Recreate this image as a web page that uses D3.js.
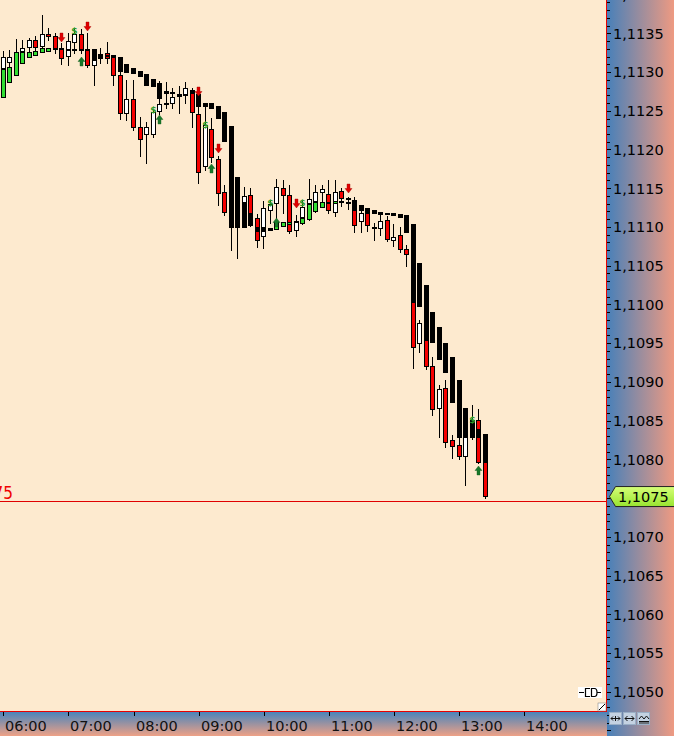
<!DOCTYPE html>
<html><head><meta charset="utf-8">
<script src="https://cdn.jsdelivr.net/npm/d3@7"></script>
<style>html,body{margin:0;padding:0;background:#FDEACF;overflow:hidden}</style>
</head><body><svg id="c" width="674" height="736"></svg>
<script>
// ---------- DATA ----------
const barOpen = [1.11304,1.11312,1.11316,1.11326,1.11331,1.11341,1.11332,1.11349,1.11347,1.11331,
1.11319,1.11337,1.11349,1.11328,1.11308,1.11322,1.11325,1.11319,1.11296,1.11246,
1.11265,1.11229,1.11219,1.11219,1.11248,1.11260,1.11259,1.11270,1.11270,1.11277,
1.11246,1.11177,1.11226,1.11188,1.11145,1.11128,1.11115,1.11122,1.11141,1.11112,
1.11087,1.11121,1.11130,1.11150,1.11141,1.11095,1.11112,1.11130,1.11132,1.11144,
1.11143,1.11118,1.11146,1.11132,1.11122,1.11106,1.11118,1.11100,1.11097,1.11109,
1.11082,1.11090,1.11071,1.11062,1.10949,1.10973,1.10921,1.10865,1.10892,1.10825,
1.10818,1.10803,1.10830,1.10851,1.10825];
const barHigh = [1.11327,1.11328,1.11343,1.11341,1.11344,1.11347,1.11374,1.11357,1.11350,1.11337,
1.11350,1.11356,1.11356,1.11350,1.11322,1.11331,1.11339,1.11322,1.11319,1.11290,
1.11290,1.11242,1.11235,1.11251,1.11288,1.11287,1.11279,1.11282,1.11287,1.11279,
1.11255,1.11255,1.11241,1.11192,1.11154,1.11174,1.11154,1.11152,1.11150,1.11117,
1.11133,1.11135,1.11162,1.11161,1.11154,1.11115,1.11135,1.11162,1.11154,1.11154,
1.11161,1.11161,1.11150,1.11139,1.11139,1.11121,1.11122,1.11105,1.11115,1.11114,
1.11104,1.11100,1.11077,1.11070,1.10980,1.10977,1.10932,1.10896,1.10902,1.10831,
1.10827,1.10851,1.10870,1.10865,1.10833];
const barLow = [1.11296,1.11307,1.11308,1.11322,1.11326,1.11328,1.11326,1.11341,1.11325,1.11310,
1.11309,1.11325,1.11325,1.11307,1.11283,1.11312,1.11312,1.11283,1.11239,1.11238,
1.11225,1.11192,1.11183,1.11216,1.11246,1.11254,1.11254,1.11247,1.11260,1.11229,
1.11157,1.11174,1.11184,1.11128,1.11115,1.11070,1.11060,1.11115,1.11101,1.11074,
1.11073,1.11105,1.11105,1.11118,1.11092,1.11088,1.11104,1.11109,1.11119,1.11128,
1.11118,1.11114,1.11127,1.11123,1.11094,1.11094,1.11095,1.11083,1.11090,1.11082,
1.11075,1.11068,1.11050,1.10918,1.10939,1.10917,1.10857,1.10829,1.10816,1.10802,
1.10800,1.10767,1.10826,1.10795,1.10750];
const barClose = [1.11319,1.11319,1.11326,1.11331,1.11341,1.11331,1.11349,1.11345,1.11328,1.11317,
1.11340,1.11349,1.11328,1.11308,1.11316,1.11318,1.11317,1.11295,1.11246,1.11265,
1.11228,1.11212,1.11229,1.11248,1.11259,1.11260,1.11268,1.11269,1.11279,1.11247,
1.11170,1.11232,1.11189,1.11143,1.11118,1.11103,1.11101,1.11140,1.11117,1.11082,
1.11124,1.11130,1.11152,1.11140,1.11094,1.11106,1.11126,1.11136,1.11145,1.11149,
1.11121,1.11145,1.11136,1.11132,1.11101,1.11118,1.11101,1.11100,1.11108,1.11083,
1.11087,1.11070,1.11064,1.10944,1.10976,1.10919,1.10864,1.10891,1.10821,1.10816,
1.10803,1.10835,1.10840,1.10795,1.10751];
const haOpen = [1.11266,1.11286,1.11295,1.11310,1.11318,1.11321,1.11325,1.11326,1.11331,1.11331,
1.11330,1.11330,1.11330,1.11330,1.11330,1.11323,1.11322,1.11322,1.11319,1.11310,
1.11305,1.11301,1.11297,1.11291,1.11286,1.11275,1.11274,1.11272,1.11272,1.11275,
1.11272,1.11260,1.11260,1.11256,1.11248,1.11230,1.11165,1.11132,1.11117,1.11100,
1.11100,1.11099,1.11096,1.11100,1.11103,1.11108,1.11104,1.11109,1.11119,1.11124,
1.11129,1.11130,1.11133,1.11137,1.11135,1.11128,1.11124,1.11122,1.11119,1.11118,
1.11118,1.11117,1.11115,1.11104,1.11053,1.11025,1.10990,1.10971,1.10950,1.10932,
1.10902,1.10866,1.10851,1.10839,1.10833];
const haClose = [1.11304,1.11307,1.11326,1.11326,1.11326,1.11327,1.11331,1.11331,1.11328,1.11328,
1.11328,1.11328,1.11328,1.11327,1.11316,1.11317,1.11319,1.11318,1.11300,1.11299,
1.11297,1.11294,1.11282,1.11281,1.11265,1.11272,1.11272,1.11268,1.11269,1.11272,
1.11255,1.11255,1.11252,1.11239,1.11210,1.11099,1.11099,1.11099,1.11101,1.11094,
1.11094,1.11095,1.11106,1.11106,1.11106,1.11105,1.11112,1.11130,1.11132,1.11132,
1.11132,1.11133,1.11131,1.11135,1.11122,1.11121,1.11118,1.11117,1.11115,1.11115,
1.11114,1.11112,1.11092,1.11002,1.10997,1.10953,1.10950,1.10928,1.10911,1.10873,
1.10827,1.10827,1.10827,1.10827,1.10795];
// signals: [bar index, price of arrow tip]
const sellBars = [9, 13, 30, 33, 45, 53];
const sellPrices = [1.11339, 1.11353, 1.11269, 1.11195, 1.11124, 1.11144];
const buyBars = [12, 24, 32, 42, 73];
const buyPrices = [1.11319, 1.11245, 1.11181, 1.11112, 1.10791];
const markBars = [11, 23, 31, 41, 46, 72];
const markPrices = [1.11353, 1.11251, 1.11232, 1.11132, 1.11131, 1.10852];
const timeLabels = ["06:00","07:00","08:00","09:00","10:00","11:00","12:00","13:00","14:00"];
const priceTicks = [1.1050,1.1055,1.1060,1.1065,1.1070,1.1075,1.1080,1.1085,1.1090,1.1095,
1.1100,1.1105,1.1110,1.1115,1.1120,1.1125,1.1130,1.1135,1.1140];
const lastPrice = 1.10746;
const lastLabel = 1.1075;
const barMinutes = 6;

// ---------- CHART ----------
const svg = d3.select("#c");
const W = 674, H = 736, PR = 606, PB = 711;
const day = (h, m) => new Date(2020, 0, 1, h, m || 0);
const x = d3.scaleTime().domain([day(6), day(14)]).range([3.3, 524.1]);
const y = d3.scaleLinear().domain([1.1050, 1.1135]).range([691.7, 33.3]);
const loc = d3.formatLocale({decimal: ",", thousands: ".", grouping: [3], currency: ["", ""]});
const fmt = loc.format(".4f");
const AX = "'DejaVu Sans', Verdana, sans-serif";

const defs = svg.append("defs");
const gR = defs.append("linearGradient").attr("id", "gR").attr("x1", 0).attr("x2", 1).attr("y1", 0).attr("y2", 0);
gR.append("stop").attr("offset", 0).attr("stop-color", "#4880B9");
gR.append("stop").attr("offset", 1).attr("stop-color", "#EE9A82");
const gB = defs.append("linearGradient").attr("id", "gB").attr("x1", 0).attr("x2", 0).attr("y1", 0).attr("y2", 1);
gB.append("stop").attr("offset", 0).attr("stop-color", "#4A84BB");
gB.append("stop").attr("offset", 1).attr("stop-color", "#EEA186");
const gT = defs.append("linearGradient").attr("id", "gT").attr("x1", 0).attr("x2", 0).attr("y1", 0).attr("y2", 1);
gT.append("stop").attr("offset", 0).attr("stop-color", "#D6FF78");
gT.append("stop").attr("offset", 1).attr("stop-color", "#98E430");
defs.append("clipPath").attr("id", "clip").append("rect").attr("x", 0).attr("y", 0).attr("width", PR).attr("height", PB);

svg.append("rect").attr("x", 0).attr("y", 0).attr("width", PR).attr("height", PB).attr("fill", "#FDEACF");
svg.append("rect").attr("x", PR + 1).attr("y", 0).attr("width", W - PR - 1).attr("height", H).attr("fill", "url(#gR)");
svg.append("rect").attr("x", 0).attr("y", PB + 1).attr("width", PR + 1).attr("height", H - PB - 1).attr("fill", "url(#gB)");

const plot = svg.append("g").attr("clip-path", "url(#clip)").attr("shape-rendering", "crispEdges");
const barTime = i => new Date(day(6).getTime() + i * barMinutes * 60000);
const left = i => Math.round(x(barTime(i)) - 2.5);

// candles
barOpen.forEach((o, i) => {
  const L = left(i), mid = L + 2.5;
  plot.append("line").attr("x1", mid).attr("x2", mid)
    .attr("y1", Math.round(y(barHigh[i]))).attr("y2", Math.round(y(barLow[i])) + 1)
    .attr("stroke", "#000").attr("stroke-width", 1);
  const yo = Math.round(y(o)), yc = Math.round(y(barClose[i]));
  const t = Math.min(yo, yc), b = Math.max(yo, yc);
  plot.append("rect").attr("x", L + 0.5).attr("y", t + 0.5).attr("width", 4).attr("height", Math.max(1, b - t - 1))
    .attr("fill", barClose[i] > o ? "#FFFFFF" : "#F50000").attr("stroke", "#000").attr("stroke-width", 1);
});
// overlay boxes
haOpen.forEach((o, i) => {
  const L = left(i);
  const yo = Math.round(y(o)), yc = Math.round(y(haClose[i]));
  const t = Math.min(yo, yc), b = Math.max(yo, yc);
  plot.append("rect").attr("x", L + 0.5).attr("y", t + 0.5).attr("width", 4).attr("height", Math.max(1, b - t - 1))
    .attr("fill", haClose[i] > o ? "#33DD33" : "#000000").attr("stroke", "#000").attr("stroke-width", 1);
});
// markers
const mk = svg.append("g").attr("clip-path", "url(#clip)");
sellBars.forEach((bi, k) => {
  const cx = left(bi) + 2.5, tip = Math.round(y(sellPrices[k]));
  mk.append("path").attr("d", `M${cx-1.5},${tip-9}H${cx+1.5}V${tip-4.5}H${cx+3.5}L${cx},${tip}L${cx-3.5},${tip-4.5}H${cx-1.5}Z`)
    .attr("fill", "#E00000").attr("stroke", "#A00000").attr("stroke-width", 0.4);
});
buyBars.forEach((bi, k) => {
  const cx = left(bi) + 2.5, tip = Math.round(y(buyPrices[k]));
  mk.append("path").attr("d", `M${cx},${tip}L${cx+3.5},${tip+4.5}H${cx+1.5}V${tip+9}H${cx-1.5}V${tip+4.5}H${cx-3.5}Z`)
    .attr("fill", "#17782A").attr("stroke", "#0E5A1C").attr("stroke-width", 0.4);
});
markBars.forEach((bi, k) => {
  const cx = left(bi) + 2.5, cy = y(markPrices[k]);
  mk.append("text").attr("x", cx).attr("y", cy + 3.5).attr("text-anchor", "middle")
    .attr("font-family", AX).attr("font-size", 9).attr("font-weight", "bold").attr("fill", "#2A9A2A").text("$");
});

// last price line + left label
const yl = Math.round(y(lastPrice)) + 0.5;
svg.append("line").attr("x1", 0).attr("x2", PR).attr("y1", yl).attr("y2", yl).attr("stroke", "#E00000").attr("stroke-width", 1);
svg.append("text").attr("x", 13).attr("y", yl - 3).attr("text-anchor", "end")
  .attr("font-family", "'Liberation Sans Narrow', 'DejaVu Sans Condensed', sans-serif").attr("font-stretch", "condensed")
  .attr("font-size", 17).attr("fill", "#F00000").text(fmt(lastLabel));

// borders
svg.append("line").attr("x1", PR + 0.5).attr("x2", PR + 0.5).attr("y1", 0).attr("y2", PB + 1).attr("stroke", "#E80000");
svg.append("line").attr("x1", 0).attr("x2", PR + 1).attr("y1", PB + 0.5).attr("y2", PB + 0.5).attr("stroke", "#E80000");

// y axis ticks & labels
const yax = svg.append("g").attr("shape-rendering", "crispEdges");
d3.range(11040, 11146).forEach(k => {
  const p = k / 10000, yy = Math.round(y(p)) + 0.5;
  yax.append("line").attr("x1", PR + 1).attr("x2", PR + (k % 5 === 0 ? 5 : 4)).attr("y1", yy).attr("y2", yy).attr("stroke", "#000");
});
priceTicks.forEach(p => {
  if (Math.abs(p - lastLabel) < 1e-9) return;
  svg.append("text").attr("x", 613).attr("y", y(p) + 5.3).attr("font-family", AX).attr("font-size", 14.5)
    .attr("fill", "#000").text(fmt(p));
});
// last price tag
const ty = y(lastLabel) - 1.5;
svg.append("path").attr("d", `M609.5,${ty}L615.5,${ty-10}H676V${ty+10}H615.5Z`)
  .attr("fill", "url(#gT)").attr("stroke", "#222").attr("stroke-width", 1);
svg.append("text").attr("x", 618).attr("y", ty + 5.3).attr("font-family", AX).attr("font-size", 14.5).attr("fill", "#000").text(fmt(lastLabel));

// x axis
timeLabels.forEach((lab, k) => {
  const hh = +lab.slice(0, 2), xx = Math.round(x(day(hh))) + 0.5;
  svg.append("line").attr("x1", xx).attr("x2", xx).attr("y1", PB + 1).attr("y2", PB + 5).attr("stroke", "#000").attr("shape-rendering", "crispEdges");
  svg.append("text").attr("x", xx + 1.5).attr("y", 730.5).attr("font-family", AX).attr("font-size", 14.5).attr("fill", "#111").text(lab);
});

// corner widgets
const btn = svg.append("g");
[609.5, 623.5, 637.5].forEach((bx, k) => {
  btn.append("rect").attr("x", bx).attr("y", 712.5).attr("width", 12).attr("height", 12).attr("fill", "#C4D2E2").attr("stroke", "#9AAFC6");
});
btn.append("path").attr("d", "M611,718.5H620M611,718.5l2,-2M611,718.5l2,2M620,718.5l-2,-2M620,718.5l-2,2M615.5,716v5").attr("stroke", "#111").attr("fill", "none");
btn.append("path").attr("d", "M625,718.5H634M625,718.5l2.5,-2.5M625,718.5l2.5,2.5M634,718.5l-2.5,-2.5M634,718.5l-2.5,2.5").attr("stroke", "#111").attr("fill", "none");
btn.append("path").attr("d", "M639,719l2.5,-3l2.5,3l2.5,-3l2.5,3M639,721.5H649M639,723H649").attr("stroke", "#111").attr("fill", "none");
// connector icon
const ic = svg.append("g");
ic.append("rect").attr("x", 578).attr("y", 687).attr("width", 24).attr("height", 11).attr("fill", "#FFFFFF");
ic.append("path").attr("d", "M579,692.5H584M597,692.5H601M590,688.5H585.5V696.5H590M591.5,688.5H594.5Q597,688.5 597,692.5Q597,696.5 594.5,696.5H591.5Z")
  .attr("stroke", "#000").attr("stroke-width", 1.2).attr("fill", "none");
// resize grip
svg.append("rect").attr("x", 598).attr("y", 703).attr("width", 8).attr("height", 8).attr("fill", "#FFFFFF").attr("stroke", "#777").attr("stroke-width", 0.5);
svg.append("line").attr("x1", 599).attr("y1", 710).attr("x2", 605).attr("y2", 704).attr("stroke", "#000");
</script></body></html>
